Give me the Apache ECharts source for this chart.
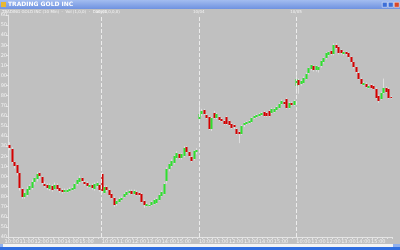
<!DOCTYPE html>
<html>
<head>
<meta charset="utf-8">
<script src="https://cdn.jsdelivr.net/npm/echarts@6/dist/echarts.min.js"></script>
<style>
  html, body { margin: 0; padding: 0; background: #c0c0c0; }
  #chart { width: 400px; height: 250px; }
</style>
</head>
<body>
<div id="chart"></div>
<script>
// 10 minute bars, four sessions
const days = ['10/02', '10/03', '10/04', '10/05']
const dayStartTimes = ['09:50', '09:30', '09:30', '09:30']

const opens = [
  6.31, 6.27, 6.14, 6.11, 6.03, 5.88, 5.80, 5.82, 5.87, 5.89, 5.94, 5.97, 6.03, 5.99, 5.93, 5.92, 5.88, 5.91, 5.88, 5.92, 5.89, 5.87, 5.85, 5.85, 5.86, 5.87, 5.88, 5.92, 5.94, 5.98, 5.95, 5.94, 5.90, 5.92, 5.88, 5.91, 5.92,
  6.02, 5.84, 5.90, 5.87, 5.83, 5.79, 5.73, 5.75, 5.77, 5.80, 5.82, 5.84, 5.86, 5.83, 5.85, 5.84, 5.83, 5.76, 5.71, 5.71, 5.72, 5.73, 5.74, 5.77, 5.81, 5.83, 5.95, 6.07, 6.10, 6.13, 6.18, 6.22, 6.18, 6.20, 6.29, 6.24, 6.19, 6.17, 6.24,
  6.57, 6.62, 6.66, 6.61, 6.59, 6.47, 6.63, 6.58, 6.59, 6.57, 6.55, 6.59, 6.55, 6.52, 6.51, 6.47, 6.44, 6.42, 6.51, 6.52, 6.53, 6.54, 6.58, 6.59, 6.60, 6.61, 6.64, 6.63, 6.65, 6.63, 6.64, 6.66, 6.68, 6.72, 6.74, 6.77, 6.68, 6.73, 6.71,
  6.90, 6.96, 6.92, 6.93, 6.97, 7.02, 7.06, 7.09, 7.05, 7.05, 7.09, 7.13, 7.17, 7.20, 7.24, 7.21, 7.30, 7.28, 7.25, 7.21, 7.23, 7.22, 7.18, 7.13, 7.08, 7.03, 6.97, 6.91, 6.92, 6.88, 6.91, 6.90, 6.87, 6.80, 6.77, 6.83, 6.88, 6.87, 6.79
]
const closes = [
  6.28, 6.14, 6.10, 6.03, 5.88, 5.80, 5.84, 5.88, 5.91, 5.95, 5.98, 6.02, 6.00, 5.93, 5.91, 5.89, 5.92, 5.87, 5.92, 5.88, 5.86, 5.85, 5.87, 5.87, 5.88, 5.89, 5.93, 5.96, 5.98, 5.95, 5.93, 5.91, 5.92, 5.89, 5.93, 5.94, 5.87,
  5.85, 5.90, 5.87, 5.82, 5.79, 5.72, 5.76, 5.78, 5.79, 5.83, 5.85, 5.86, 5.83, 5.86, 5.82, 5.82, 5.75, 5.72, 5.73, 5.72, 5.75, 5.77, 5.78, 5.82, 5.85, 5.93, 6.07, 6.12, 6.15, 6.20, 6.23, 6.18, 6.22, 6.28, 6.24, 6.20, 6.15, 6.25, 6.26,
  6.62, 6.65, 6.62, 6.58, 6.47, 6.58, 6.58, 6.62, 6.56, 6.55, 6.52, 6.52, 6.51, 6.48, 6.49, 6.42, 6.42, 6.50, 6.53, 6.54, 6.55, 6.58, 6.60, 6.61, 6.62, 6.63, 6.60, 6.60, 6.60, 6.67, 6.67, 6.69, 6.72, 6.75, 6.72, 6.68, 6.73, 6.71, 6.75,
  6.97, 6.91, 6.95, 6.98, 7.02, 7.07, 7.10, 7.05, 7.09, 7.08, 7.14, 7.17, 7.22, 7.23, 7.21, 7.30, 7.27, 7.22, 7.22, 7.23, 7.21, 7.18, 7.13, 7.08, 7.03, 6.97, 6.92, 6.93, 6.89, 6.90, 6.88, 6.87, 6.78, 6.75, 6.83, 6.88, 6.84, 6.78, 6.78
]
const lows = [
  6.26, 6.13, 6.08, 6.01, 5.86, 5.78, 5.78, 5.80, 5.85, 5.87, 5.92, 5.95, 5.98, 5.92, 5.89, 5.87, 5.86, 5.85, 5.87, 5.86, 5.84, 5.83, 5.84, 5.84, 5.85, 5.86, 5.87, 5.91, 5.93, 5.94, 5.91, 5.89, 5.89, 5.87, 5.86, 5.89, 5.85,
  5.84, 5.83, 5.85, 5.81, 5.78, 5.70, 5.71, 5.74, 5.76, 5.79, 5.81, 5.82, 5.82, 5.82, 5.81, 5.80, 5.74, 5.69, 5.70, 5.70, 5.71, 5.72, 5.73, 5.76, 5.80, 5.82, 5.93, 6.05, 6.09, 6.12, 6.17, 6.17, 6.17, 6.19, 6.23, 6.19, 6.14, 6.16, 6.22,
  6.55, 6.60, 6.61, 6.57, 6.46, 6.45, 6.57, 6.57, 6.55, 6.54, 6.51, 6.51, 6.50, 6.47, 6.47, 6.41, 6.33, 6.41, 6.49, 6.51, 6.52, 6.53, 6.57, 6.58, 6.59, 6.60, 6.59, 6.59, 6.59, 6.62, 6.63, 6.65, 6.67, 6.71, 6.71, 6.67, 6.67, 6.70, 6.70,
  6.82, 6.82, 6.90, 6.92, 6.96, 7.01, 7.05, 7.04, 7.04, 7.03, 7.08, 7.12, 7.16, 7.19, 7.20, 7.20, 7.26, 7.21, 7.21, 7.20, 7.20, 7.17, 7.12, 7.07, 7.02, 6.96, 6.91, 6.90, 6.88, 6.87, 6.87, 6.86, 6.77, 6.73, 6.76, 6.82, 6.83, 6.77, 6.77
]
const highs = [
  6.34, 6.29, 6.15, 6.12, 6.04, 5.89, 5.86, 5.90, 5.92, 5.97, 5.99, 6.04, 6.05, 6.00, 5.95, 5.93, 5.93, 5.92, 5.94, 5.93, 5.90, 5.88, 5.88, 5.88, 5.89, 5.90, 5.94, 5.97, 6.01, 5.99, 5.96, 5.95, 5.93, 5.93, 5.94, 5.95, 5.93,
  6.04, 5.91, 5.91, 5.88, 5.84, 5.80, 5.77, 5.79, 5.80, 5.84, 5.86, 5.87, 5.87, 5.87, 5.86, 5.85, 5.84, 5.77, 5.74, 5.73, 5.76, 5.78, 5.79, 5.83, 5.86, 5.94, 6.09, 6.13, 6.17, 6.21, 6.25, 6.23, 6.23, 6.30, 6.30, 6.25, 6.20, 6.26, 6.28,
  6.71, 6.67, 6.67, 6.62, 6.60, 6.59, 6.65, 6.63, 6.60, 6.58, 6.56, 6.60, 6.56, 6.53, 6.52, 6.48, 6.45, 6.51, 6.54, 6.55, 6.56, 6.59, 6.61, 6.62, 6.63, 6.64, 6.65, 6.64, 6.66, 6.68, 6.68, 6.70, 6.73, 6.76, 6.75, 6.78, 6.74, 6.74, 6.76,
  7.03, 6.97, 6.96, 6.99, 7.03, 7.08, 7.11, 7.10, 7.10, 7.09, 7.15, 7.18, 7.23, 7.24, 7.25, 7.32, 7.32, 7.29, 7.26, 7.24, 7.24, 7.23, 7.19, 7.14, 7.09, 7.04, 6.98, 6.94, 6.93, 6.91, 6.92, 6.91, 6.88, 6.81, 6.84, 6.97, 6.89, 6.88, 6.80
]

// time labels for each bar
const categories = []
const dayStarts = []
days.forEach((d, k) => {
  dayStarts.push(categories.length)
  let [h, m] = dayStartTimes[k].split(':').map(Number)
  while (h < 16) {
    categories.push(d + ' ' + String(h).padStart(2, '0') + ':' + String(m).padStart(2, '0'))
    m += 10
    if (m === 60) { m = 0; h++ }
  }
})

const bars = categories.map((c, i) => [i, opens[i], closes[i], lows[i], highs[i]])

const upColor = '#2fe02f'
const downColor = '#d40000'
const wickColor = '#dedede'
const textColor = '#f2f2f2'

function renderCandle(params, api) {
  const i = api.value(0)
  const o = api.coord([i, api.value(1)])
  const c = api.coord([i, api.value(2)])
  const l = api.coord([i, api.value(3)])
  const h = api.coord([i, api.value(4)])
  const x = Math.round(o[0])
  const top = Math.round(Math.min(o[1], c[1]))
  const hgt = Math.max(Math.round(Math.abs(o[1] - c[1])), 1)
  const up = api.value(2) >= api.value(1)
  return {
    type: 'group',
    children: [
      { type: 'line', shape: { x1: x + 0.5, y1: h[1], x2: x + 0.5, y2: l[1] }, style: { stroke: wickColor, lineWidth: 1 } },
      { type: 'rect', shape: { x: x - 0.5, y: top, width: 2, height: hgt }, style: { fill: up ? upColor : downColor } }
    ]
  }
}

const chart = echarts.init(document.getElementById('chart'))
chart.setOption({
  backgroundColor: '#c0c0c0',
  animation: false,
  textStyle: { fontFamily: 'DejaVu Sans' },
  grid: { left: 8, right: 8, top: 15, bottom: 13, containLabel: false, outerBoundsMode: 'none' },
  xAxis: {
    type: 'category',
    data: categories,
    boundaryGap: true,
    axisLine: { lineStyle: { color: '#e4e4e4', width: 1 } },
    axisTick: { show: true, interval: 1, length: 2, lineStyle: { color: '#e4e4e4' } },
    axisLabel: {
      color: textColor, fontSize: 5, margin: 2,
      interval: (idx, val) => val.endsWith(':00'),
      formatter: val => val.split(' ')[1]
    },
    splitLine: { show: false }
  },
  yAxis: {
    type: 'value',
    position: 'left',
    min: 5.4,
    max: 7.6,
    interval: 0.1,
    axisLine: { show: true, lineStyle: { color: '#e4e4e4' } },
    axisTick: { show: true, length: 2, lineStyle: { color: '#e4e4e4' } },
    axisLabel: { color: textColor, fontSize: 5, margin: 1, formatter: v => v.toFixed(2) },
    splitLine: { show: false }
  },
  graphic: [
    // window title bar
    { type: 'rect', left: 0, top: 0, shape: { width: 400, height: 9 },
      style: { fill: new echarts.graphic.LinearGradient(0, 0, 0, 1, [{ offset: 0, color: '#a3bdf0' }, { offset: 1, color: '#6f92e0' }]) } },
    { type: 'rect', left: 1, top: 2, shape: { width: 5, height: 5 }, style: { fill: '#e8b830' } },
    { type: 'text', left: 8, top: 1.5, style: { text: 'TRADING GOLD INC', fill: '#ffffff', font: 'bold 6px DejaVu Sans' } },
    { type: 'rect', left: 382, top: 2, shape: { width: 5, height: 5 }, style: { fill: '#3d6fd8', stroke: '#ffffff', lineWidth: 0.5 } },
    { type: 'rect', left: 388, top: 2, shape: { width: 5, height: 5 }, style: { fill: '#3d6fd8', stroke: '#ffffff', lineWidth: 0.5 } },
    { type: 'rect', left: 394, top: 2, shape: { width: 5, height: 5 }, style: { fill: '#d8482a', stroke: '#ffffff', lineWidth: 0.5 } },
    // study caption
    { type: 'text', left: 2, top: 9.5, style: { text: 'TRADING GOLD INC (10 Min)  -  Vol (1,0,0)  -  Daily(1,0,0,0)', fill: '#f4f4f4', font: '4px DejaVu Sans' } },
    // scroll bar and bottom border
    { type: 'rect', left: 0, top: 244, shape: { width: 400, height: 3 }, style: { fill: '#f4f4f4' } },
    { type: 'rect', left: 0, top: 244, shape: { width: 3, height: 3 }, style: { fill: '#8fb0ee' } },
    { type: 'rect', left: 393, top: 244, shape: { width: 7, height: 3 }, style: { fill: '#8fb0ee' } },
    { type: 'rect', left: 0, top: 247, shape: { width: 400, height: 3 }, style: { fill: '#2f6ee0' } }
  ],
  series: [{
    type: 'custom',
    renderItem: renderCandle,
    data: bars,
    encode: { x: 0, y: [1, 2, 3, 4] },
    clip: true,
    markLine: {
      silent: true,
      symbol: 'none',
      lineStyle: { color: '#ececec', type: 'dashed', width: 1 },
      label: { position: 'end', color: textColor, fontSize: 4, distance: 1, formatter: p => p.name },
      data: dayStarts.slice(1).map((s, k) => ({ xAxis: s, name: days[k + 1] }))
    }
  }]
})
</script>
</body>
</html>
